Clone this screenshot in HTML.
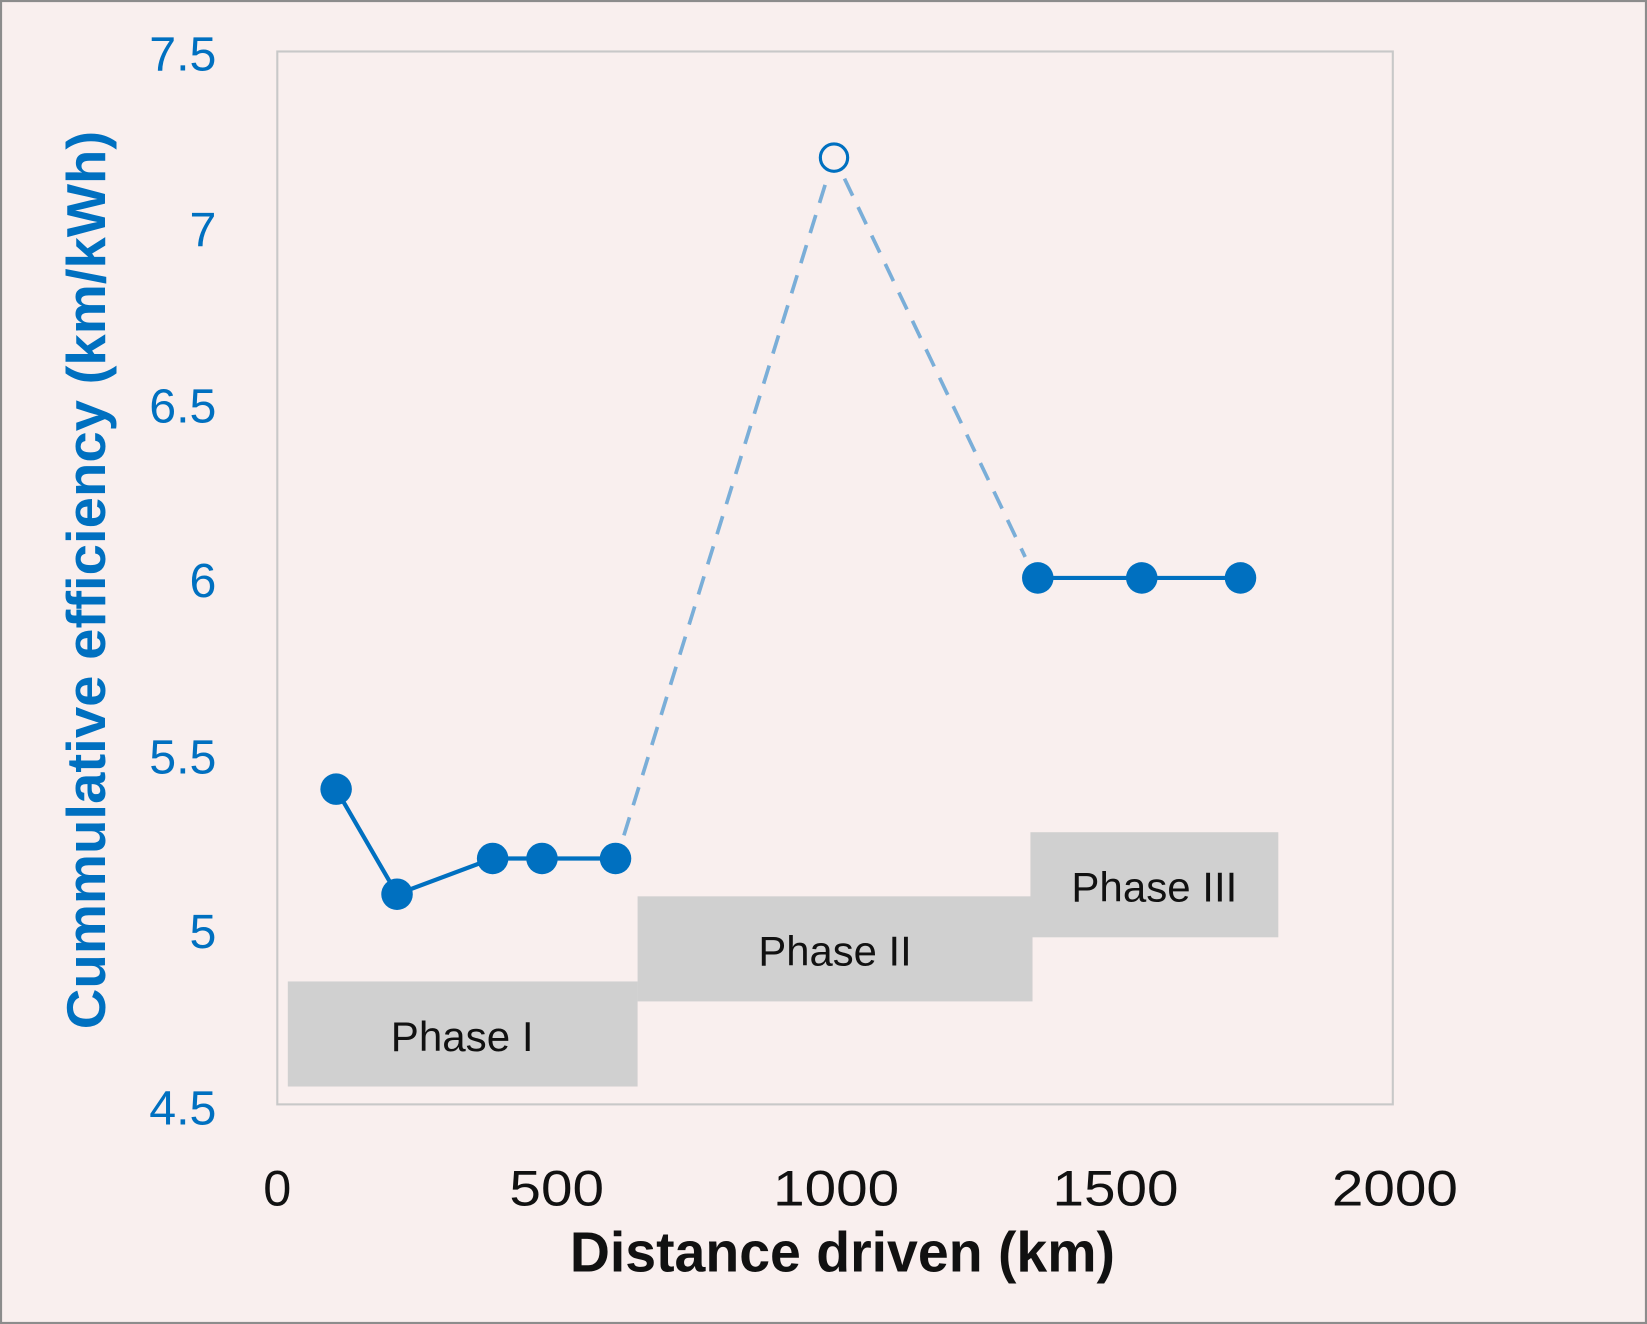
<!DOCTYPE html>
<html><head><style>
html,body{margin:0;padding:0;background:#f9efee;}
svg{display:block;}
</style></head><body>
<svg width="1647" height="1324" viewBox="0 0 1568 1260" preserveAspectRatio="none" xmlns="http://www.w3.org/2000/svg" font-family="Liberation Sans, sans-serif">
<rect x="1" y="1" width="1566" height="1258" fill="#f9efee" stroke="#8c8c8c" stroke-width="2"/>
<rect x="264" y="49" width="1062" height="1002" fill="none" stroke="#c8c8c8" stroke-width="2"/>
<g fill="#d0d0d0">
<rect x="274" y="934" width="333" height="100"/>
<rect x="607" y="853" width="376" height="100"/>
<rect x="981" y="792" width="236" height="100"/>
</g>
<g font-size="40" fill="#111" text-anchor="middle">
<text x="440" y="1000" textLength="136" lengthAdjust="spacingAndGlyphs">Phase I</text>
<text x="795" y="919" textLength="146" lengthAdjust="spacingAndGlyphs">Phase II</text>
<text x="1099" y="858" textLength="158" lengthAdjust="spacingAndGlyphs">Phase III</text>
</g>
<g stroke="#7aaed8" stroke-width="3.5" stroke-dasharray="18,12" fill="none">
<line x1="594" y1="795" x2="788" y2="168"/>
<line x1="804" y1="170" x2="976" y2="530"/>
</g>
<polyline points="320,751 378,851 469,817 516,817 586,817" fill="none" stroke="#0070c0" stroke-width="4"/>
<polyline points="988,550 1087,550 1181,550" fill="none" stroke="#0070c0" stroke-width="4"/>
<g fill="#0070c0">
<circle cx="320" cy="751" r="15"/><circle cx="378" cy="851" r="15"/><circle cx="469" cy="817" r="15"/>
<circle cx="516" cy="817" r="15"/><circle cx="586" cy="817" r="15"/>
<circle cx="988" cy="550" r="15"/><circle cx="1087" cy="550" r="15"/><circle cx="1181" cy="550" r="15"/>
</g>
<circle cx="794" cy="150" r="13" fill="#f9efee" stroke="#0070c0" stroke-width="3"/>
<g font-size="46" fill="#0070c0" text-anchor="end">
<text x="206" y="67">7.5</text>
<text x="206" y="234">7</text>
<text x="206" y="402">6.5</text>
<text x="206" y="568">6</text>
<text x="206" y="736">5.5</text>
<text x="206" y="902">5</text>
<text x="206" y="1070">4.5</text>
</g>
<g font-size="48" fill="#111" text-anchor="middle">
<text x="264" y="1147">0</text>
<text x="530" y="1147" textLength="90" lengthAdjust="spacingAndGlyphs">500</text>
<text x="796" y="1147" textLength="120" lengthAdjust="spacingAndGlyphs">1000</text>
<text x="1062" y="1147" textLength="120" lengthAdjust="spacingAndGlyphs">1500</text>
<text x="1328" y="1147" textLength="120" lengthAdjust="spacingAndGlyphs">2000</text>
</g>
<text x="802" y="1210" font-size="54" font-weight="bold" fill="#111" text-anchor="middle" textLength="519" lengthAdjust="spacingAndGlyphs">Distance driven (km)</text>
<text transform="translate(100,552) rotate(-90)" font-size="52" font-weight="bold" fill="#0070c0" text-anchor="middle" textLength="855" lengthAdjust="spacingAndGlyphs">Cummulative efficiency (km/kWh)</text>
</svg>
</body></html>
